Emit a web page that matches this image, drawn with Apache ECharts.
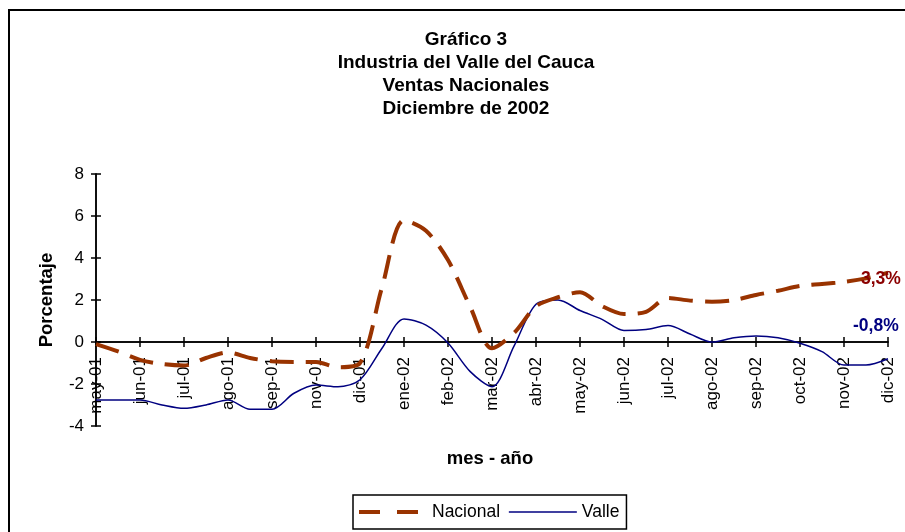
<!DOCTYPE html>
<html>
<head>
<meta charset="utf-8">
<script src="https://cdn.jsdelivr.net/npm/echarts@6/dist/echarts.min.js"></script>
<style>
  html, body { margin: 0; padding: 0; background: #fff; }
  #chart { width: 905px; height: 532px; }
</style>
</head>
<body>
<div id="chart"></div>
<script>
// Month tick labels (as shown on the axis)
const months = ['may-01','jun-01','jul-01','ago-01','sep-01','nov-01','dic-01','ene-02','feb-02','mar-02','abr-02','may-02','jun-02','jul-02','ago-02','sep-02','oct-02','nov-02','dic-02'];
// Values read at each label and half-way between labels
const nacional = [-0.1,-0.45,-0.85,-1.05,-1.12,-0.76,-0.5,-0.76,-0.92,-0.95,-0.95,-1.2,-1.0,2.6,5.8,5.3,3.9,1.7,-0.3,0.43,1.7,2.13,2.37,1.71,1.33,1.44,2.1,1.97,1.92,2.0,2.24,2.44,2.67,2.76,2.86,3.03,3.3];
const valle = [-2.76,-2.76,-2.76,-3.0,-3.16,-3.0,-2.76,-3.2,-3.2,-2.44,-2.05,-2.13,-1.8,-0.3,1.1,0.8,-0.05,-1.4,-2.13,-0.2,1.8,2.0,1.5,1.08,0.55,0.6,0.78,0.38,0.0,0.2,0.29,0.2,-0.06,-0.46,-1.1,-1.1,-0.8];
const yTicks = [-4,-2,0,2,4,6,8];
const titleLines = ['Gráfico 3','Industria del Valle del Cauca','Ventas Nacionales','Diciembre de 2002'];

// category slots: each month label followed by an unlabeled half-month slot
const categories = [];
months.forEach((m, i) => { categories.push(m); if (i < months.length - 1) categories.push(''); });

const FONT = 'Liberation Sans, Arial, sans-serif';
const pct = v => v.toFixed(1).replace('.', ',') + '%';

const chart = echarts.init(document.getElementById('chart'), null, { renderer: 'canvas' });
chart.setOption({
  animation: false,
  backgroundColor: '#ffffff',
  textStyle: { fontFamily: FONT },
  title: {
    text: titleLines.join('\n'),
    left: 466, top: 28, textAlign: 'center', padding: 0,
    textStyle: { fontFamily: FONT, fontSize: 19, fontWeight: 'bold', color: '#000', lineHeight: 23 }
  },
  graphic: [
    { type: 'rect', shape: { x: 9, y: 10, width: 1000, height: 600 }, style: { fill: 'none', stroke: '#000', lineWidth: 2 }, silent: true },
    { type: 'text', x: 490, y: 459, style: { text: 'mes - año', font: 'bold 18.5px ' + FONT, fill: '#000', textAlign: 'center', textVerticalAlign: 'middle' } }
  ],
  legend: {
    left: 353, top: 495,
    padding: [8, 7, 8, 4],
    itemGap: 8, itemWidth: 68, itemHeight: 14,
    borderColor: '#000', borderWidth: 1.5,
    textStyle: { fontFamily: FONT, fontSize: 17.5, color: '#000' },
    data: [
      { name: 'Nacional', itemStyle: { opacity: 0 }, lineStyle: { type: [21, 17], width: 4 } },
      { name: 'Valle', itemStyle: { opacity: 0 }, lineStyle: { width: 1.5 } }
    ]
  },
  grid: { left: 96, right: 17, top: 174, bottom: 106, containLabel: false },
  xAxis: [{
    type: 'category', data: categories, boundaryGap: false,
    axisLine: { onZero: true, lineStyle: { color: '#000', width: 1.5 } },
    axisTick: { show: true, interval: 1, length: 5, lineStyle: { color: '#000', width: 1.5 } },
    axisLabel: { interval: 1, rotate: 90, margin: -69, fontSize: 17, color: '#000', fontFamily: FONT },
    splitLine: { show: false }
  }, {
    type: 'category', data: categories, boundaryGap: false, position: 'bottom',
    axisLine: { onZero: true, lineStyle: { color: '#000', width: 1.5 } },
    axisTick: { show: true, inside: true, interval: 1, length: 5, lineStyle: { color: '#000', width: 1.5 } },
    axisLabel: { show: false }, splitLine: { show: false }
  }],
  yAxis: [{
    type: 'value', min: -4, max: 8, interval: 2,
    name: 'Porcentaje', nameLocation: 'middle', nameGap: 40, nameRotate: 90,
    nameTextStyle: { fontFamily: FONT, fontSize: 18.5, fontWeight: 'bold', color: '#000' },
    axisLine: { show: true, onZero: false, lineStyle: { color: '#000', width: 1.5 } },
    axisTick: { show: true, length: 5, lineStyle: { color: '#000', width: 1.5 } },
    axisLabel: { fontSize: 17, color: '#000', margin: 12, fontFamily: FONT,
      formatter: v => (yTicks.indexOf(v) >= 0 ? String(v) : '') },
    splitLine: { show: false }
  }, {
    type: 'value', min: -4, max: 8, interval: 2, position: 'left',
    axisLine: { show: true, onZero: false, lineStyle: { color: '#000', width: 1.5 } },
    axisTick: { show: true, inside: true, length: 5, lineStyle: { color: '#000', width: 1.5 } },
    axisLabel: { show: false }, splitLine: { show: false }
  }],
  series: [{
    name: 'Nacional', type: 'line', data: nacional, smooth: 0.3, symbol: 'none',
    lineStyle: { color: '#993300', width: 4, type: [24, 12] },
    itemStyle: { color: '#993300' },
    endLabel: { show: true, formatter: p => pct(p.value), offset: [-35, 6],
      fontFamily: FONT, fontSize: 17.5, fontWeight: 'bold', color: '#8B0000' },
    z: 3
  }, {
    name: 'Valle', type: 'line', data: valle, smooth: 0.3, symbol: 'none',
    lineStyle: { color: '#000080', width: 1.5, type: 'solid' },
    itemStyle: { color: '#000080' },
    endLabel: { show: true, formatter: p => pct(p.value), offset: [-43, -33],
      fontFamily: FONT, fontSize: 17.5, fontWeight: 'bold', color: '#000080' },
    z: 2
  }]
});
</script>
</body>
</html>
